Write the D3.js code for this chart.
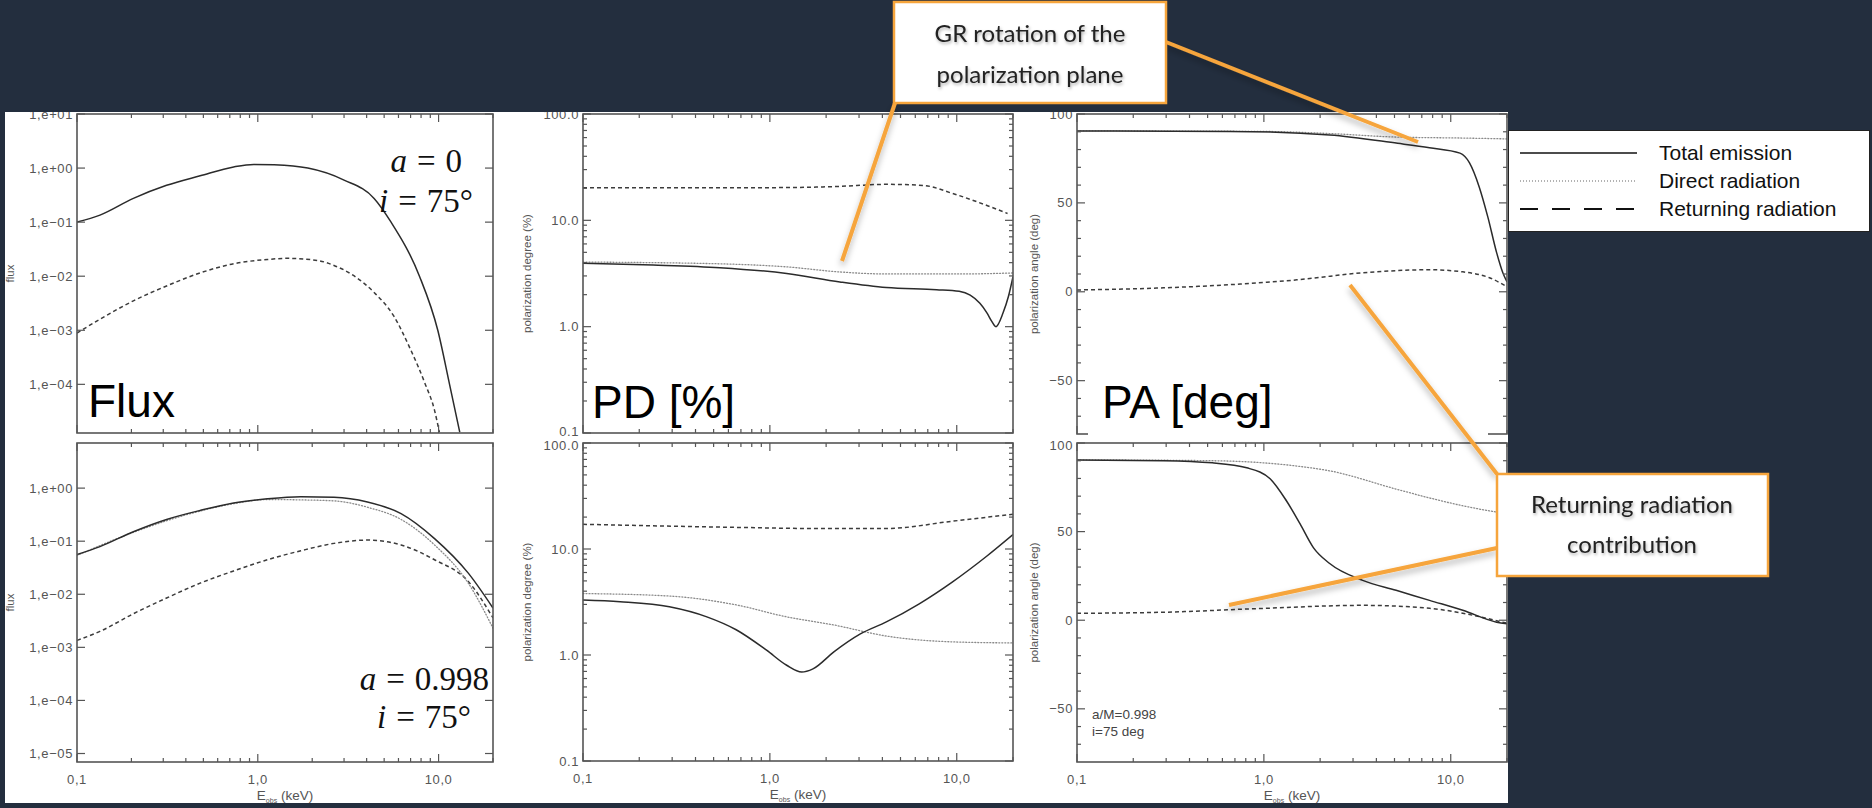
<!DOCTYPE html>
<html><head><meta charset="utf-8">
<script src="https://cdn.jsdelivr.net/npm/d3@7"></script>
<style>
html,body{margin:0;padding:0;background:#232e3e;}
svg{display:block;}
</style></head>
<body><svg id="chart" width="1872" height="808"></svg>
<script>
// ---- tick values / labels
const X_TICKS=[0.1,1,10];
const X_TICK_LABELS=["0,1","1,0","10,0"];
const FLUX_TICKS=[10,1,0.1,0.01,0.001,1e-4,1e-5];
const FLUX_TICK_LABELS=["1,e+01","1,e+00","1,e−01","1,e−02","1,e−03","1,e−04","1,e−05"];
const PD_TICKS=[100,10,1,0.1];
const PD_TICK_LABELS=["100.0","10.0","1.0","0.1"];
const PA_TICKS=[100,50,0,-50];
const PA_TICK_LABELS=["100","50","0","−50"];

// ---- a = 0 : flux
const F0_TOT_E=[0.1,0.134,0.205,0.313,0.48,0.735,0.95,1.23,1.89,3.0,4.4,5.46,7.84,9.9,11.5,13.1];
const F0_TOT  =[0.1,0.135,0.275,0.48,0.72,1.05,1.17,1.15,1.0,0.6,0.275,0.1,0.01,0.001,1e-4,1.3e-5];
const F0_RET_E=[0.1,0.134,0.205,0.313,0.48,0.735,1.13,1.45,2.15,2.64,3.4,4.4,5.67,7.0,8.4,9.5,10.1];
const F0_RET  =[8.9e-4,1.6e-3,3.5e-3,6.6e-3,0.0115,0.017,0.0204,0.0214,0.0195,0.0158,0.0102,0.005,1.8e-3,4.4e-4,1.05e-4,3.3e-5,1.3e-5];
// ---- a = 0.998 : flux
const F1_TOT_E=[0.1,0.134,0.205,0.313,0.48,0.735,1.13,1.73,2.64,4.04,6.2,9.5,14.6,20];
const F1_TOT  =[0.056,0.079,0.151,0.257,0.38,0.525,0.63,0.69,0.676,0.55,0.331,0.112,0.025,0.0055];
const F1_DIR_E=[0.1,0.205,0.48,0.735,1.13,1.73,2.64,4.04,6.2,9.5,14.6,20];
const F1_DIR  =[0.054,0.147,0.37,0.51,0.61,0.60,0.575,0.436,0.257,0.085,0.0162,0.0023];
const F1_RET_E=[0.1,0.134,0.205,0.313,0.48,0.735,1.13,1.73,2.64,4.04,6.2,9.5,14.6,20];
const F1_RET  =[1.35e-3,2.0e-3,4.3e-3,8.5e-3,0.0162,0.0275,0.0447,0.066,0.091,0.105,0.085,0.0447,0.0174,3.6e-3];

// ---- a = 0 : polarization degree (%)
const D0_TOT_E=[0.1,0.237,0.54,1.23,2.37,4.2,7.8,10.3,11.8,13.3,14.5,15.4,16.2,17.7,18.9,20];
const D0_TOT  =[3.94,3.8,3.59,3.16,2.63,2.33,2.23,2.15,1.98,1.66,1.35,1.12,1.0,1.35,1.92,2.95];
const D0_DIR_E=[0.1,0.54,1.23,2.37,4.2,10.3,20];
const D0_DIR  =[4.05,3.9,3.65,3.27,3.13,3.13,3.2];
const D0_RET_E=[0.1,1.0,2.28,4.2,6.6,9.5,14.5,18.7];
const D0_RET  =[20.3,20.3,20.8,21.8,21.3,17.9,13.8,11.6];
// ---- a = 0.998 : polarization degree (%)
const D1_TOT_E=[0.1,0.158,0.29,0.46,0.66,0.96,1.23,1.48,1.7,2.2,3.05,4.2,6.3,9.5,14.4,20];
const D1_TOT  =[3.3,3.18,2.85,2.29,1.73,1.11,0.8,0.69,0.74,1.07,1.58,2.05,3.04,4.9,8.5,13.7];
const D1_DIR_E=[0.1,0.29,0.66,1.23,2.2,4.2,9.5,20];
const D1_DIR  =[3.8,3.6,2.97,2.29,1.92,1.51,1.33,1.3];
const D1_RET_E=[0.1,0.66,1.85,4.2,9.5,20];
const D1_RET  =[17.1,16.0,15.6,15.6,18.3,21.3];

// ---- a = 0 : polarization angle (deg)
const A0_TOT_E=[0.1,0.66,2.25,5.2,7.7,11.2,12.6,14.2,15.8,17.6,19.0,20];
const A0_TOT  =[90.4,90.2,88.2,83.5,81,78,72.5,59,42,22,10.7,5.6];
const A0_DIR_E=[0.1,1.0,2.25,5.2,11.2,20];
const A0_DIR  =[90.5,90.2,89,87,86.5,86];
const A0_RET_E=[0.1,0.29,0.66,1.5,3.4,7.7,11.6,16.1,20];
const A0_RET  =[1,2.2,4,6.7,10.7,12.4,11.2,7.9,2.8];
// ---- a = 0.998 : polarization angle (deg)
const A1_TOT_E=[0.1,0.29,0.53,0.81,1.08,1.32,1.56,1.84,2.25,3.38,5.1,7.7,11.6,17.6,20];
const A1_TOT  =[90.4,90,88.8,86,79.8,67.4,54.5,41,32,22.5,16.9,11.2,5.6,-1.1,-2];
const A1_DIR_E=[0.1,0.53,1.5,2.25,5.1,7.7,11.6,20];
const A1_DIR  =[90.5,90,87,84.3,74,69,64.6,60];
const A1_RET_E=[0.1,0.29,1.0,3.38,7.7,20];
const A1_RET  =[3.9,4.5,6.7,8.4,6.7,-1.7];

const LEGEND_LABELS=["Total emission","Direct radiation","Returning radiation"];

const STYLE={
  tot:{stroke:"#2b2b2b",w:1.5,dash:null},
  dir:{stroke:"#8a8a8a",w:1.3,dash:"1,2"},
  ret:{stroke:"#3c3c3c",w:1.5,dash:"4,3"}
};
const zip=(E,V)=>E.map((e,i)=>[e,V[i]]);

const PANELS=[
  {x:77,  y:114,w:416,h:319,kind:"flux",dom:[10**-4.9,10],     bottom:false, ylab:"flux",ylx:14,
   series:[["ret",zip(F0_RET_E,F0_RET)],["tot",zip(F0_TOT_E,F0_TOT)]]},
  {x:77,  y:443,w:416,h:319,kind:"flux",dom:[10**-5.16,10**0.85],bottom:true, ylab:"flux",ylx:14,
   series:[["ret",zip(F1_RET_E,F1_RET)],["dir",zip(F1_DIR_E,F1_DIR)],["tot",zip(F1_TOT_E,F1_TOT)]]},
  {x:583, y:114,w:430,h:319,kind:"pd",dom:[0.1,100],bottom:false, ylab:"polarization degree (%)",ylx:531,
   series:[["ret",zip(D0_RET_E,D0_RET)],["dir",zip(D0_DIR_E,D0_DIR)],["tot",zip(D0_TOT_E,D0_TOT)]]},
  {x:583, y:443,w:430,h:318,kind:"pd",dom:[0.1,100],bottom:true, ylab:"polarization degree (%)",ylx:531,
   series:[["ret",zip(D1_RET_E,D1_RET)],["dir",zip(D1_DIR_E,D1_DIR)],["tot",zip(D1_TOT_E,D1_TOT)]]},
  {x:1077,y:114,w:430,h:320,kind:"pa",dom:[-80,100],bottom:false, ylab:"polarization angle (deg)",ylx:1038,
   series:[["ret",zip(A0_RET_E,A0_RET)],["dir",zip(A0_DIR_E,A0_DIR)],["tot",zip(A0_TOT_E,A0_TOT)]]},
  {x:1077,y:443,w:430,h:319,kind:"pa",dom:[-80,100],bottom:true, ylab:"polarization angle (deg)",ylx:1038,
   series:[["ret",zip(A1_RET_E,A1_RET)],["dir",zip(A1_DIR_E,A1_DIR)],["tot",zip(A1_TOT_E,A1_TOT)]]}
];

const svg=d3.select("#chart");
const defs=svg.append("defs");
const sh=defs.append("filter").attr("id","tshadow").attr("x","-20%").attr("y","-20%").attr("width","140%").attr("height","160%");
sh.append("feDropShadow").attr("dx",1).attr("dy",2).attr("stdDeviation",1.6).attr("flood-color","#000").attr("flood-opacity",0.3);
const lsh=defs.append("filter").attr("id","lshadow").attr("x","-20%").attr("y","-40%").attr("width","140%").attr("height","200%");
lsh.append("feDropShadow").attr("dx",0).attr("dy",4).attr("stdDeviation",3).attr("flood-color","#000").attr("flood-opacity",0.3);
defs.append("clipPath").attr("id","figclip").append("rect").attr("x",5).attr("y",112).attr("width",1503).attr("height",691);

svg.append("rect").attr("width",1872).attr("height",808).attr("fill","#232e3e");
svg.append("rect").attr("x",5).attr("y",112).attr("width",1503).attr("height",691).attr("fill","#fff");

const fig=svg.append("g").attr("clip-path","url(#figclip)");
const SANS="'Liberation Sans', Arial, Helvetica, sans-serif";
const SERIF="'Liberation Serif', 'Times New Roman', serif";
const TICKC="#555";

function tickText(sel){
  return sel.attr("fill",TICKC).style("font-size","13px").style("letter-spacing","0.6px").style("font-family",SANS);
}

PANELS.forEach((p,pi)=>{
  const g=fig.append("g");
  const xs=d3.scaleLog().domain([0.1,20]).range([p.x,p.x+p.w]);
  const ys=(p.kind==="pa"?d3.scaleLinear():d3.scaleLog()).domain(p.dom).range([p.y+p.h,p.y]);

  const cid="pclip"+pi;
  defs.append("clipPath").attr("id",cid).append("rect")
    .attr("x",p.x).attr("y",p.y).attr("width",p.w).attr("height",p.h);

  // curves
  const line=d3.line().x(d=>xs(d[0])).y(d=>ys(d[1])).curve(d3.curveMonotoneX);
  const cg=g.append("g").attr("clip-path",`url(#${cid})`);
  p.series.forEach(([k,pts])=>{
    const s=STYLE[k];
    cg.append("path").attr("d",line(pts)).attr("fill","none")
      .attr("stroke",s.stroke).attr("stroke-width",s.w)
      .attr("stroke-dasharray",s.dash).attr("stroke-linecap",k==="dir"?"round":"butt");
  });

  // ticks on all four sides, pointing inward
  const isMaj=v=>X_TICKS.some(t=>Math.abs(t-v)<1e-9);
  const xt=xs.ticks().filter(v=>v<=20.0001);
  const tk=g.append("g").attr("stroke",TICKC).attr("stroke-width",1.2);
  xt.forEach(v=>{
    const L=isMaj(v)?8:4, X=xs(v);
    tk.append("line").attr("x1",X).attr("x2",X).attr("y1",p.y+p.h).attr("y2",p.y+p.h-L);
    tk.append("line").attr("x1",X).attr("x2",X).attr("y1",p.y).attr("y2",p.y+L);
  });
  let yMaj,yMin=[],yLab;
  if(p.kind==="flux"){ yMaj=FLUX_TICKS; yLab=FLUX_TICK_LABELS; }
  else if(p.kind==="pd"){ yMaj=PD_TICKS; yLab=PD_TICK_LABELS; yMin=ys.ticks().filter(v=>!PD_TICKS.some(t=>Math.abs(t-v)<1e-9)); }
  else { yMaj=PA_TICKS; yLab=PA_TICK_LABELS; yMin=d3.range(-80,101,10).filter(v=>v%50!==0); }
  const inDom=v=>v>=Math.min(...p.dom)*0.999&&v<=Math.max(...p.dom)*1.001;
  yMin.filter(inDom).forEach(v=>{
    const Y=ys(v);
    tk.append("line").attr("x1",p.x).attr("x2",p.x+4).attr("y1",Y).attr("y2",Y);
    tk.append("line").attr("x1",p.x+p.w).attr("x2",p.x+p.w-4).attr("y1",Y).attr("y2",Y);
  });
  yMaj.forEach((v,i)=>{
    if(!inDom(v)) return;
    const Y=ys(v);
    tk.append("line").attr("x1",p.x).attr("x2",p.x+8).attr("y1",Y).attr("y2",Y);
    tk.append("line").attr("x1",p.x+p.w).attr("x2",p.x+p.w-8).attr("y1",Y).attr("y2",Y);
    // keep the bottom label of the upper row clear of the top label of the lower row
    const nudge=(!p.bottom&&Math.abs(Y-(p.y+p.h))<1)?-2:((p.bottom&&Math.abs(Y-p.y)<1)?2:0);
    tickText(g.append("text").attr("x",p.x-4).attr("y",Y+4.5+nudge).attr("text-anchor","end")).text(yLab[i]);
  });

  // frame
  g.append("rect").attr("x",p.x).attr("y",p.y).attr("width",p.w).attr("height",p.h)
    .attr("fill","none").attr("stroke",TICKC).attr("stroke-width",1.6);

  // y title
  g.append("text").attr("transform",`translate(${p.ylx},${p.y+p.h/2}) rotate(-90)`)
    .attr("text-anchor","middle").attr("fill",TICKC)
    .style("font-size","11.5px").style("font-family",SANS).text(p.ylab);

  // x labels on bottom row
  if(p.bottom){
    X_TICKS.forEach((v,i)=>{
      tickText(g.append("text").attr("x",xs(v)).attr("y",p.y+p.h+22).attr("text-anchor","middle")).text(X_TICK_LABELS[i]);
    });
    const t=g.append("text").attr("x",p.x+p.w/2).attr("y",p.y+p.h+38).attr("text-anchor","middle")
      .attr("fill",TICKC).style("font-size","13.5px").style("font-family",SANS);
    t.append("tspan").text("E");
    t.append("tspan").attr("dy",3).style("font-size","7px").text("obs");
    t.append("tspan").attr("dy",-3).text(" (keV)");
  }
});

// big quantity labels
const BIG=[["Flux",88,417,null],["PD [%]",592,418,null],["PA [deg]",1102,418,[1088,380,400,62]]];
BIG.forEach(([txt,x,y,box])=>{
  if(box) fig.append("rect").attr("x",box[0]).attr("y",box[1]).attr("width",box[2]).attr("height",box[3]).attr("fill","#fff");
  fig.append("text").attr("x",x).attr("y",y).attr("fill","#000")
    .style("font-size","46px").style("font-family",SANS).text(txt);
});

// spin / inclination labels
function mathLabel(x,y,sym,val){
  const t=fig.append("text").attr("x",x).attr("y",y).attr("text-anchor","end")
    .style("font-size","33px").style("font-family",SERIF).attr("fill","#111");
  t.append("tspan").style("font-style","italic").text(sym);
  t.append("tspan").attr("dx",10).text("=");
  t.append("tspan").attr("dx",10).text(val);
}
mathLabel(462,172,"a","0");
mathLabel(473,212,"i","75°");
mathLabel(489,690,"a","0.998");
mathLabel(471,728,"i","75°");

fig.append("text").attr("x",1092).attr("y",719).attr("fill","#444")
  .style("font-size","13.5px").style("font-family",SANS).text("a/M=0.998");
fig.append("text").attr("x",1092).attr("y",736).attr("fill","#444")
  .style("font-size","13.5px").style("font-family",SANS).text("i=75 deg");

// legend
const lg=svg.append("g");
lg.append("rect").attr("x",1508.5).attr("y",130.5).attr("width",361).attr("height",101)
  .attr("fill","#fff").attr("stroke","#222").attr("stroke-width",1);
["tot","dir","ret"].forEach((k,i)=>{
  const Y=153+i*28;
  lg.append("line").attr("x1",1520).attr("x2",1637).attr("y1",Y).attr("y2",Y)
    .attr("stroke",k==="dir"?"#666":"#111").attr("stroke-width",k==="dir"?1.2:(k==="ret"?2:1.5))
    .attr("stroke-dasharray",k==="dir"?"1,2":(k==="ret"?"18,14":null));
  lg.append("text").attr("x",1659).attr("y",Y+7).attr("fill","#111")
    .style("font-size","21px").style("font-family",SANS).text(LEGEND_LABELS[i]);
});

// callouts
const ORANGE="#f6a53c";
const LEADERS=[[895,103,842,261],[1166,42,1418,142],[1497,474,1350,285],[1497,548,1229,605]];
const ann=svg.append("g");
LEADERS.forEach(([x1,y1,x2,y2])=>{
  ann.append("line").attr("x1",x1).attr("y1",y1).attr("x2",x2).attr("y2",y2)
    .attr("stroke",ORANGE).attr("stroke-width",4).attr("filter","url(#lshadow)");
});
const BOXES=[
  {x:894,y:2,w:272,h:101,lines:["GR rotation of the","polarization plane"],cx:1030,by:[42,83]},
  {x:1497,y:474,w:271,h:102,lines:["Returning radiation","contribution"],cx:1632,by:[513,553]}
];
BOXES.forEach(b=>{
  ann.append("rect").attr("x",b.x).attr("y",b.y).attr("width",b.w).attr("height",b.h)
    .attr("fill","#fff").attr("stroke",ORANGE).attr("stroke-width",2.5);
  b.lines.forEach((l,i)=>{
    ann.append("text").attr("x",b.cx).attr("y",b.by[i]).attr("text-anchor","middle")
      .attr("fill","#222").attr("filter","url(#tshadow)")
      .style("font-size","24px").style("font-family","Lato, 'Open Sans', sans-serif").text(l);
  });
});
</script>
</body></html>
